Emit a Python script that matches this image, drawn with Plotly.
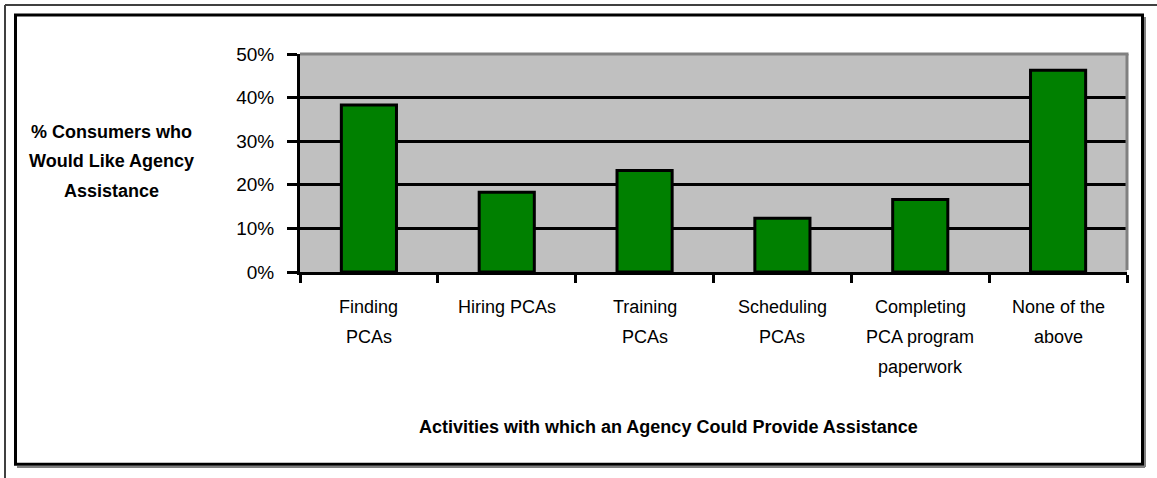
import plotly.graph_objects as go

# ---------------- data ----------------
categories = ["Finding PCAs", "Hiring PCAs", "Training PCAs", "Scheduling PCAs",
              "Completing PCA program paperwork", "None of the above"]
tick_labels = ["Finding<br>PCAs", "Hiring PCAs", "Training<br>PCAs", "Scheduling<br>PCAs",
               "Completing<br>PCA program<br>paperwork", "None of the<br>above"]
values = [38.3, 18.3, 23.3, 12.3, 16.6, 46.3]
y_tick_vals = [0, 10, 20, 30, 40, 50]
y_tick_labels = ["0%", "10%", "20%", "30%", "40%", "50%"]
y_title_lines = ["% Consumers who", "Would Like Agency", "Assistance"]
x_title = "Activities with which an Agency Could Provide Assistance"

# ---------------- geometry helpers ----------------
W, H = 1157, 478
def px(x):
    return x / W
def py(y):
    return 1 - y / H

FONT = "Liberation Sans, Arial, sans-serif"
PLOT_L, PLOT_R, PLOT_T, PLOT_B = 300, 1127, 54, 272

fig = go.Figure()
fig.add_trace(go.Bar(
    x=categories, y=values,
    marker=dict(color="#008000", line=dict(color="black", width=3)),
    hoverinfo="x+y",
))

annotations = []
for cat, lab in zip(categories, tick_labels):
    for j, line in enumerate(lab.split("<br>")):
        annotations.append(dict(
            x=cat, xref="x", y=py(307 + 30 * j), yref="paper",
            text=line, showarrow=False, xanchor="center", yanchor="middle",
            font=dict(family=FONT, size=18, color="black")))
for j, line in enumerate(y_title_lines):
    annotations.append(dict(
        x=px(111), xref="paper", y=py(132 + 29.5 * j), yref="paper",
        text="<b>" + line + "</b>", showarrow=False, xanchor="center", yanchor="middle",
        font=dict(family=FONT, size=18, color="black")))
annotations.append(dict(
    x=px(668), xref="paper", y=py(427), yref="paper",
    text="<b>" + x_title + "</b>", showarrow=False, xanchor="center", yanchor="middle",
    font=dict(family=FONT, size=18, color="black")))

shapes = [
    # outer thin frame (left / top)
    dict(type="line", xref="paper", yref="paper", x0=px(5), x1=px(5), y0=py(5), y1=py(478),
         line=dict(color="#404040", width=2)),
    dict(type="line", xref="paper", yref="paper", x0=px(5), x1=px(1157), y0=py(5), y1=py(5),
         line=dict(color="#404040", width=2)),
    # inner frame shadow
    dict(type="line", xref="paper", yref="paper", x0=px(17), x1=px(1145), y0=py(467), y1=py(467),
         line=dict(color="#808080", width=2)),
    dict(type="line", xref="paper", yref="paper", x0=px(1145), x1=px(1145), y0=py(17), y1=py(467),
         line=dict(color="#808080", width=2)),
    # inner black frame
    dict(type="rect", xref="paper", yref="paper", x0=px(15.5), x1=px(1142.5),
         y0=py(464.3), y1=py(15), line=dict(color="black", width=3)),
    # plot-area top/right gray border
    dict(type="line", xref="paper", yref="paper", x0=px(PLOT_L), x1=px(PLOT_R + 1.5),
         y0=py(PLOT_T), y1=py(PLOT_T), line=dict(color="#808080", width=3), layer="above"),
    dict(type="line", xref="paper", yref="paper", x0=px(PLOT_R), x1=px(PLOT_R),
         y0=py(PLOT_T), y1=py(PLOT_B - 2), line=dict(color="#808080", width=3), layer="above"),
]

fig.update_layout(
    width=W, height=H, autosize=False,
    margin=dict(l=0, r=0, t=0, b=0, pad=0, autoexpand=False),
    paper_bgcolor="white", plot_bgcolor="#C0C0C0",
    showlegend=False,
    bargap=0.6,
    font=dict(family=FONT, size=18, color="black"),
    annotations=annotations,
    shapes=shapes,
    xaxis=dict(
        domain=[px(PLOT_L), px(PLOT_R)],
        type="category", range=[-0.5, 5.5],
        showline=True, linecolor="black", linewidth=3,
        ticks="outside", tickson="boundaries", ticklen=8, tickwidth=3, tickcolor="black",
        showticklabels=False, showgrid=False, zeroline=False, fixedrange=True,
        automargin=False,
    ),
    yaxis=dict(
        domain=[py(PLOT_B), py(PLOT_T)],
        range=[0, 50],
        tickvals=y_tick_vals, ticktext=y_tick_labels,
        showline=True, linecolor="black", linewidth=3,
        ticks="outside", ticklen=10, tickwidth=3, tickcolor="black",
        ticklabelstandoff=9,
        tickfont=dict(family=FONT, size=19, color="black"),
        showgrid=True, gridcolor="black", gridwidth=3,
        zeroline=False, fixedrange=True, automargin=False,
    ),
)

fig.write_html("out.html", config={"displayModeBar": False},
               post_script="document.body.style.margin='0';document.body.style.overflow='hidden';")
